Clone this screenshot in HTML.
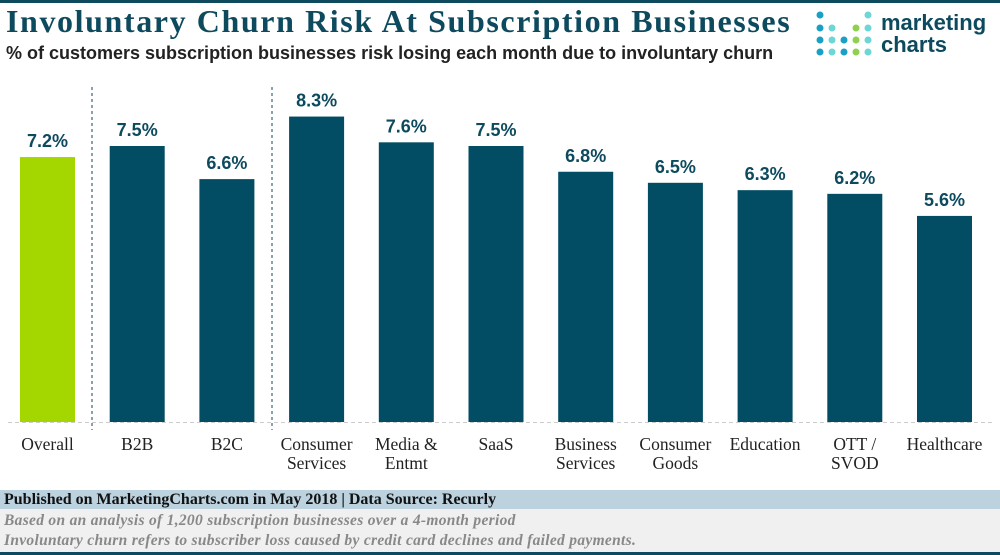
<!DOCTYPE html>
<html><head><meta charset="utf-8"><style>
body{margin:0;width:1000px;height:555px;overflow:hidden;background:#fff;font-family:"Liberation Sans",sans-serif;position:relative}
.abs{position:absolute}
</style></head><body>
<div class="abs" style="left:0;top:0;width:1000px;height:3px;background:#0d4a5e"></div>
<div class="abs" style="left:6px;top:3px;font:bold 32px 'Liberation Serif',serif;color:#0d4a5e;letter-spacing:1.6px;white-space:nowrap">Involuntary Churn Risk At Subscription Businesses</div>
<div class="abs" style="left:6px;top:43px;font:bold 18px 'Liberation Sans',sans-serif;color:#222;letter-spacing:0px;white-space:nowrap">% of customers subscription businesses risk losing each month due to involuntary churn</div>
<div class="abs" style="left:815px;top:10px;width:185px;height:50px">
<svg width="60" height="50" style="position:absolute;left:0;top:0">
<g fill="#1aa0c4"><circle cx="5" cy="5" r="3.5"/><circle cx="5" cy="18" r="3.5"/><circle cx="5" cy="30" r="3.5"/><circle cx="5" cy="42" r="3.5"/><circle cx="29" cy="30" r="3.5"/><circle cx="29" cy="42" r="3.5"/></g>
<g fill="#6dd6d6"><circle cx="17" cy="18" r="3.5"/><circle cx="17" cy="30" r="3.5"/><circle cx="17" cy="42" r="3.5"/><circle cx="53" cy="5" r="3.5"/><circle cx="53" cy="18" r="3.5"/><circle cx="53" cy="30" r="3.5"/><circle cx="53" cy="42" r="3.5"/></g>
<g fill="#8fd14f"><circle cx="41" cy="18" r="3.5"/><circle cx="41" cy="30" r="3.5"/><circle cx="41" cy="42" r="3.5"/></g></svg>
<div style="position:absolute;left:66px;top:2px;font:bold 22px 'Liberation Sans',sans-serif;color:#0d4a5e;line-height:22px">marketing<br>charts</div>
</div>
<svg id="chart" class="abs" style="left:0;top:0" width="1000" height="490"></svg>
<div class="abs" style="left:0;top:490px;width:1000px;height:19px;background:#bcd2df;font:bold 16px 'Liberation Serif',serif;color:#111;line-height:19px;padding-left:4px;white-space:nowrap">Published on MarketingCharts.com in May 2018 | Data Source: Recurly</div>
<div class="abs" style="left:0;top:509px;width:1000px;height:43px;background:#f0f0f0;font:italic bold 15.5px 'Liberation Serif',serif;color:#888;line-height:20px;padding-left:4px;box-sizing:border-box;padding-top:2px;white-space:nowrap;letter-spacing:0.3px">Based on an analysis of 1,200 subscription businesses over a 4-month period<br>Involuntary churn refers to subscriber loss caused by credit card declines and failed payments.</div>
<div class="abs" style="left:0;top:552px;width:1000px;height:3px;background:#0d4a5e"></div>
<script>
const categories=[["Overall"],["B2B"],["B2C"],["Consumer","Services"],["Media &","Entmt"],["SaaS"],["Business","Services"],["Consumer","Goods"],["Education"],["OTT /","SVOD"],["Healthcare"]];
const values=[7.2,7.5,6.6,8.3,7.6,7.5,6.8,6.5,6.3,6.2,5.6];
const labels=["7.2%","7.5%","6.6%","8.3%","7.6%","7.5%","6.8%","6.5%","6.3%","6.2%","5.6%"];
const svg=document.getElementById('chart');const NS='http://www.w3.org/2000/svg';
const base=422,scale=36.8,x0=47.5,step=89.7,bw=55;
const yS=v=>base-v*scale, xS=i=>x0+i*step;
function mk(t,a){const e=document.createElementNS(NS,t);for(const k in a)e.setAttribute(k,a[k]);svg.appendChild(e);return e;}
const bl=mk('line',{x1:8,x2:995,y1:base+0.5,y2:base+0.5,stroke:'#ccc','stroke-dasharray':'4,3'});


[92,272].forEach(x=>{const l=mk('line',{x1:x,x2:x,y1:87,y2:430,stroke:'#0d4a5e','stroke-dasharray':'3,3'});

});
values.forEach((v,i)=>{
const r=mk('rect',{x:xS(i)-bw/2,y:yS(v),width:bw,height:v*scale,fill:i==0?'#a4d600':'#024d63'});


const t=mk('text',{x:xS(i),y:yS(v)-10,'text-anchor':'middle','font-family':'Liberation Sans,sans-serif','font-weight':'bold','font-size':'18',fill:'#0d4a5e'});t.textContent=labels[i];


categories[i].forEach((ln,j)=>{const c=mk('text',{x:xS(i),y:450+j*19,'text-anchor':'middle','font-family':'Liberation Serif,serif','font-size':'17.5',fill:'#222'});c.textContent=ln;

});
});
</script>
</body></html>
